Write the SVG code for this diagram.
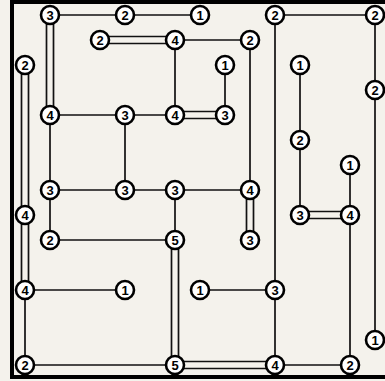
<svg xmlns="http://www.w3.org/2000/svg" width="385" height="381" viewBox="0 0 385 381">
<style>
.b{stroke:#111;stroke-width:1.7;fill:none}
.n circle{fill:#fff;stroke:#000;stroke-width:2.6}
.n text{font-family:"Liberation Sans",Arial,sans-serif;font-weight:bold;font-size:13px;fill:#000;text-anchor:middle;dominant-baseline:central}
</style>
<rect width="385" height="381" fill="#f4f2ec"/>
<rect x="12" y="2" width="380" height="375" fill="none" stroke="#000" stroke-width="4"/>
<g id="connectors">
<path class="b" d="M50 15H200M275 15H375M175 40H250M50 115H175M50 190H250M50 240H175M25 290H125M200 290H275M25 365H175M275 365H350"/>
<path class="b" d="M175 40V115M250 40V190M275 15V290M375 15V340M225 65V115M125 115V190M300 65V215M350 165V365M50 115V240M175 190V240M275 290V365M25 290V365"/>
<path class="b" d="M46.5 15V115M53.5 15V115"/>
<path class="b" d="M100 36.5H175M100 43.5H175"/>
<path class="b" d="M175 111.5H225M175 118.5H225"/>
<path class="b" d="M21.5 65V290M28.5 65V290"/>
<path class="b" d="M246.5 190V240M253.5 190V240"/>
<path class="b" d="M300 211.5H350M300 218.5H350"/>
<path class="b" d="M171.5 240V365M178.5 240V365"/>
<path class="b" d="M175 361.5H275M175 368.5H275"/>
</g>
<g id="n1" class="n"><circle cx="50" cy="15" r="9"/><text x="50" y="15">3</text></g>
<g id="n2" class="n"><circle cx="125" cy="15" r="9"/><text x="125" y="15">2</text></g>
<g id="n3" class="n"><circle cx="200" cy="15" r="9"/><text x="200" y="15">1</text></g>
<g id="n4" class="n"><circle cx="275" cy="15" r="9"/><text x="275" y="15">2</text></g>
<g id="n5" class="n"><circle cx="375" cy="15" r="9"/><text x="375" y="15">2</text></g>
<g id="n6" class="n"><circle cx="100" cy="40" r="9"/><text x="100" y="40">2</text></g>
<g id="n7" class="n"><circle cx="175" cy="40" r="9"/><text x="175" y="40">4</text></g>
<g id="n8" class="n"><circle cx="250" cy="40" r="9"/><text x="250" y="40">2</text></g>
<g id="n9" class="n"><circle cx="25" cy="65" r="9"/><text x="25" y="65">2</text></g>
<g id="n10" class="n"><circle cx="225" cy="65" r="9"/><text x="225" y="65">1</text></g>
<g id="n11" class="n"><circle cx="300" cy="65" r="9"/><text x="300" y="65">1</text></g>
<g id="n12" class="n"><circle cx="375" cy="90" r="9"/><text x="375" y="90">2</text></g>
<g id="n13" class="n"><circle cx="50" cy="115" r="9"/><text x="50" y="115">4</text></g>
<g id="n14" class="n"><circle cx="125" cy="115" r="9"/><text x="125" y="115">3</text></g>
<g id="n15" class="n"><circle cx="175" cy="115" r="9"/><text x="175" y="115">4</text></g>
<g id="n16" class="n"><circle cx="225" cy="115" r="9"/><text x="225" y="115">3</text></g>
<g id="n17" class="n"><circle cx="300" cy="140" r="9"/><text x="300" y="140">2</text></g>
<g id="n18" class="n"><circle cx="350" cy="165" r="9"/><text x="350" y="165">1</text></g>
<g id="n19" class="n"><circle cx="50" cy="190" r="9"/><text x="50" y="190">3</text></g>
<g id="n20" class="n"><circle cx="125" cy="190" r="9"/><text x="125" y="190">3</text></g>
<g id="n21" class="n"><circle cx="175" cy="190" r="9"/><text x="175" y="190">3</text></g>
<g id="n22" class="n"><circle cx="250" cy="190" r="9"/><text x="250" y="190">4</text></g>
<g id="n23" class="n"><circle cx="25" cy="215" r="9"/><text x="25" y="215">4</text></g>
<g id="n24" class="n"><circle cx="300" cy="215" r="9"/><text x="300" y="215">3</text></g>
<g id="n25" class="n"><circle cx="350" cy="215" r="9"/><text x="350" y="215">4</text></g>
<g id="n26" class="n"><circle cx="50" cy="240" r="9"/><text x="50" y="240">2</text></g>
<g id="n27" class="n"><circle cx="175" cy="240" r="9"/><text x="175" y="240">5</text></g>
<g id="n28" class="n"><circle cx="250" cy="240" r="9"/><text x="250" y="240">3</text></g>
<g id="n29" class="n"><circle cx="25" cy="290" r="9"/><text x="25" y="290">4</text></g>
<g id="n30" class="n"><circle cx="125" cy="290" r="9"/><text x="125" y="290">1</text></g>
<g id="n31" class="n"><circle cx="200" cy="290" r="9"/><text x="200" y="290">1</text></g>
<g id="n32" class="n"><circle cx="275" cy="290" r="9"/><text x="275" y="290">3</text></g>
<g id="n33" class="n"><circle cx="375" cy="340" r="9"/><text x="375" y="340">1</text></g>
<g id="n34" class="n"><circle cx="25" cy="365" r="9"/><text x="25" y="365">2</text></g>
<g id="n35" class="n"><circle cx="175" cy="365" r="9"/><text x="175" y="365">5</text></g>
<g id="n36" class="n"><circle cx="275" cy="365" r="9"/><text x="275" y="365">4</text></g>
<g id="n37" class="n"><circle cx="350" cy="365" r="9"/><text x="350" y="365">2</text></g>
</svg>
